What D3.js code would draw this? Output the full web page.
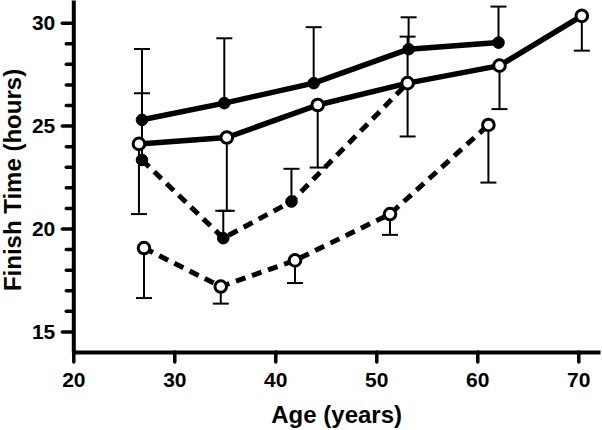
<!DOCTYPE html>
<html>
<head>
<meta charset="utf-8">
<script src="https://cdn.jsdelivr.net/npm/d3@7"></script>
<style>
  html, body { margin: 0; padding: 0; background: #fff; }
  svg { display: block; }
  text { font-family: "Liberation Sans", Arial, Helvetica, sans-serif; font-weight: bold; fill: #000; }
</style>
</head>
<body>
<svg id="chart" width="602" height="430"></svg>
<script>
// ---- Data ----
const xTicks = [20, 30, 40, 50, 60, 70];
const yTicks = [15, 20, 25, 30];
const yMinorTicks = [16, 17, 18, 19, 21, 22, 23, 24, 26, 27, 28, 29];

// Series A: filled circles, solid line, upper error bars
const agesA = [26.8, 34.95, 43.8, 53.2, 62.1];
const timeA = [25.28, 26.09, 27.06, 28.71, 29.03];
const errA  = [28.72, 29.24, 29.78, 30.26, 30.78];

// Series B: open circles, solid line, lower error bars
const agesB = [26.5, 35.2, 44.2, 53.1, 62.2, 70.35];
const timeB = [24.11, 24.42, 26.0, 27.06, 27.91, 30.33];
const errB  = [20.70, 20.86, 22.96, 24.47, 25.8, 28.64];

// Series C: filled circles, dashed line, upper error bars
const agesC = [26.8, 34.85, 41.6, 53.1];
const timeC = [23.33, 19.53, 21.31, 27.06];
const errC  = [26.57, 20.86, 22.9, 29.32];

// Series D: open circles, dashed line, lower error bars
const agesD = [27.0, 34.6, 41.95, 51.36, 61.1];
const timeD = [19.05, 17.18, 18.45, 20.7, 25.03];
const errD  = [16.62, 16.35, 17.35, 19.69, 22.23];

const series = [
  {ages: agesA, vals: timeA, err: errA, filled: true,  dashed: false},
  {ages: agesB, vals: timeB, err: errB, filled: false, dashed: false},
  {ages: agesC, vals: timeC, err: errC, filled: true,  dashed: true},
  {ages: agesD, vals: timeD, err: errD, filled: false, dashed: true}
];

// ---- Layout ----
const svg = d3.select("#chart");
const mLeft = 73.3, mRight = 600, mTop = 0, mBottom = 352;

const x = d3.scaleLinear().domain([20, 72.15]).range([mLeft, mRight]);
const y = d3.scaleLinear().domain([14, 31.1]).range([mBottom, mTop]);

// ---- Axes ----
const yMinor = svg.append("g").attr("transform", `translate(${mLeft},0)`)
  .call(d3.axisLeft(y).tickValues(yMinorTicks).tickFormat("").tickSize(7).tickSizeOuter(0));
yMinor.select(".domain").remove();
yMinor.selectAll(".tick line").attr("stroke", "#000").attr("stroke-width", 3.5).attr("stroke-linecap", "round");

const yAxis = svg.append("g").attr("transform", `translate(${mLeft},0)`)
  .call(d3.axisLeft(y).tickValues(yTicks).tickSize(11).tickSizeOuter(0).tickPadding(7));
yAxis.select(".domain").attr("stroke", "#000").attr("stroke-width", 4);
yAxis.selectAll(".tick line").attr("stroke", "#000").attr("stroke-width", 3.5).attr("stroke-linecap", "round");
yAxis.selectAll(".tick text").style("font-size", "21px").style("font-family", "'Liberation Sans', Arial, sans-serif").style("font-weight", "bold").attr("fill", "#000");

const xAxis = svg.append("g").attr("transform", `translate(0,${mBottom})`)
  .call(d3.axisBottom(x).tickValues(xTicks).tickSize(10).tickSizeOuter(0).tickPadding(10));
xAxis.select(".domain").attr("stroke", "#000").attr("stroke-width", 4);
xAxis.selectAll(".tick line").attr("stroke", "#000").attr("stroke-width", 3.5).attr("stroke-linecap", "round");
xAxis.selectAll(".tick text").style("font-size", "21px").style("font-family", "'Liberation Sans', Arial, sans-serif").style("font-weight", "bold").attr("fill", "#000");

// Axis titles
svg.append("text")
  .attr("x", (mLeft + mRight) / 2).attr("y", 423)
  .attr("text-anchor", "middle").style("font-size", "24px")
  .text("Age (years)");
svg.append("text")
  .attr("transform", `translate(21,180) rotate(-90)`)
  .attr("text-anchor", "middle").style("font-size", "24px")
  .text("Finish Time (hours)");

// ---- Error bars ----
const capW = 8;
const eb = svg.append("g");
series.forEach(s => {
  s.ages.forEach((a, i) => {
    const cx = x(a);
    eb.append("line").attr("x1", cx).attr("x2", cx)
      .attr("y1", y(s.vals[i])).attr("y2", y(s.err[i]))
      .attr("stroke", "#000").attr("stroke-width", 2);
    eb.append("line").attr("x1", cx - capW).attr("x2", cx + capW)
      .attr("y1", y(s.err[i])).attr("y2", y(s.err[i]))
      .attr("stroke", "#000").attr("stroke-width", 2);
  });
});

// ---- Lines ----
const line = d3.line().x(d => x(d[0])).y(d => y(d[1]));
series.forEach(s => {
  const pts = s.ages.map((a, i) => [a, s.vals[i]]);
  svg.append("path").datum(pts)
    .attr("d", line)
    .attr("fill", "none").attr("stroke", "#000")
    .attr("stroke-width", s.dashed ? 5 : 5.5)
    .attr("stroke-dasharray", s.dashed ? "10,7" : null)
    .attr("stroke-linejoin", "round");
});

// ---- Markers ----
[2, 0, 3, 1].forEach(k => {
  const s = series[k];
  svg.append("g").selectAll("circle")
    .data(s.ages.map((a, i) => [a, s.vals[i]]))
    .join("circle")
    .attr("cx", d => x(d[0])).attr("cy", d => y(d[1]))
    .attr("r", 5.8)
    .attr("fill", s.filled ? "#000" : "#fff")
    .attr("stroke", "#000").attr("stroke-width", s.filled ? 1 : 3);
});
</script>
</body>
</html>
